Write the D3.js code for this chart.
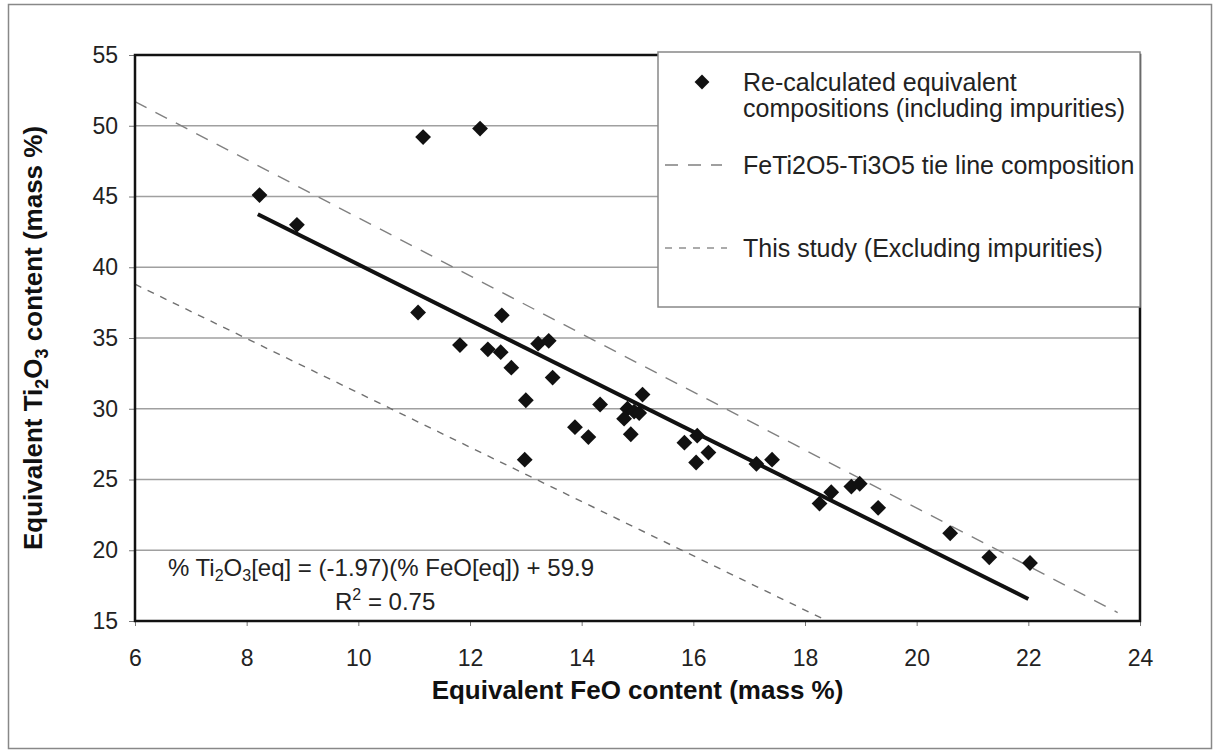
<!DOCTYPE html>
<html>
<head>
<meta charset="utf-8">
<script src="https://cdn.jsdelivr.net/npm/d3@7"></script>
<style>
  body { margin: 0; background: #fff; }
  svg { display: block; font-family: "Liberation Sans", Arial, sans-serif; }
</style>
</head>
<body>
<div id="chart"></div>
<script>
// measured points: equivalent FeO vs equivalent Ti2O3 (mass %)
const feo = [8.23, 8.9, 11.16, 12.18, 11.07, 12.57, 11.82, 12.32, 12.55, 13.22,
    13.41, 12.74, 13.48, 13.0, 14.33, 13.88, 14.12, 12.98, 15.09, 14.82,
    14.94, 14.76, 15.03, 14.88, 15.84, 16.07, 16.27, 16.05, 17.13, 17.41,
    18.26, 18.47, 18.83, 18.98, 19.31, 20.6, 21.3, 22.03];
const ti2o3 = [45.1, 43.0, 49.2, 49.8, 36.8, 36.6, 34.5, 34.2, 34.0, 34.6,
    34.8, 32.9, 32.2, 30.6, 30.3, 28.7, 28.0, 26.4, 31.0, 30.0,
    29.8, 29.3, 29.7, 28.2, 27.6, 28.1, 26.9, 26.2, 26.1, 26.4,
    23.3, 24.1, 24.5, 24.7, 23.0, 21.2, 19.5, 19.1];

// fitted trend: %Ti2O3 = slope * %FeO + intercept, drawn over fitRange
const fitSlope = -1.97;
const fitIntercept = 59.9;
const fitRange = [8.2, 22.0];

// reference lines, endpoints [FeO, Ti2O3]
const tieLine = [[6, 51.7], [23.6, 15.6]];
const studyLine = [[6, 38.8], [18.4, 15]];

const xTicks = [6, 8, 10, 12, 14, 16, 18, 20, 22, 24];
const yTicks = [15, 20, 25, 30, 35, 40, 45, 50, 55];

const legendLabels = [
    ["Re-calculated equivalent", "compositions (including impurities)"],
    ["FeTi2O5-Ti3O5 tie line composition"],
    ["This study (Excluding impurities)"]
];

const W = 1220, H = 753;
const margin = { top: 55, right: 80, bottom: 132, left: 135 },
    width = W - margin.left - margin.right,
    height = H - margin.top - margin.bottom;

const svg = d3.select("#chart")
    .append("svg")
    .attr("width", W)
    .attr("height", H);

// outer frame of the figure
svg.append("rect")
    .attr("x", 8.5).attr("y", 4.5)
    .attr("width", 1203).attr("height", 744)
    .attr("fill", "none")
    .attr("stroke", "#888")
    .attr("stroke-width", 1.5);

const g = svg.append("g")
    .attr("transform", `translate(${margin.left},${margin.top})`);

const x = d3.scaleLinear().domain([6, 24]).range([0, width]);
const y = d3.scaleLinear().domain([15, 55]).range([height, 0]);

// gridlines
g.append("g")
    .selectAll("line")
    .data(yTicks.filter(t => t > 15 && t < 55))
    .join("line")
    .attr("x1", 0).attr("x2", width)
    .attr("y1", d => y(d)).attr("y2", d => y(d))
    .attr("stroke", "#a0a0a0")
    .attr("stroke-width", 1.3);

// axes
const yAxis = g.append("g")
    .call(d3.axisLeft(y).tickValues(yTicks).tickSize(6).tickPadding(11));
const xAxis = g.append("g")
    .attr("transform", `translate(0,${height})`)
    .call(d3.axisBottom(x).tickValues(xTicks).tickSize(5).tickPadding(24));
[yAxis, xAxis].forEach(a => {
    a.select(".domain").remove();
    a.selectAll(".tick line").attr("stroke", "#777");
    a.selectAll("text")
        .attr("font-size", "23px")
        .attr("font-family", "Liberation Sans, Arial, sans-serif")
        .attr("fill", "#222");
});

// reference lines
const line = d3.line().x(d => x(d[0])).y(d => y(d[1]));
g.append("path")
    .attr("d", line(tieLine))
    .attr("fill", "none")
    .attr("stroke", "#808080")
    .attr("stroke-width", 1.4)
    .attr("stroke-dasharray", "13,10");
g.append("path")
    .attr("d", line(studyLine))
    .attr("fill", "none")
    .attr("stroke", "#707070")
    .attr("stroke-width", 1.4)
    .attr("stroke-dasharray", "7,7");

// trend line
g.append("path")
    .attr("d", line(fitRange.map(v => [v, fitSlope * v + fitIntercept])))
    .attr("fill", "none")
    .attr("stroke", "#111")
    .attr("stroke-width", 4);

// points
const diamond = d3.symbol().type(d3.symbolSquare).size(125);
g.append("g")
    .selectAll("path")
    .data(feo.map((v, i) => [v, ti2o3[i]]))
    .join("path")
    .attr("d", diamond)
    .attr("transform", d => `translate(${x(d[0])},${y(d[1])}) rotate(45)`)
    .attr("fill", "#111");

// plot frame
g.append("rect")
    .attr("width", width).attr("height", height)
    .attr("fill", "none")
    .attr("stroke", "#111")
    .attr("stroke-width", 2.5);

// equation
const eq = g.append("text")
    .attr("x", 33).attr("y", 521)
    .attr("font-size", "24px")
    .attr("fill", "#222");
eq.append("tspan").text("% Ti");
eq.append("tspan").attr("dy", 5).attr("font-size", "16px").text("2");
eq.append("tspan").attr("dy", -5).text("O");
eq.append("tspan").attr("dy", 5).attr("font-size", "16px").text("3");
eq.append("tspan").attr("dy", -5).text("[eq] = (-1.97)(% FeO[eq]) + 59.9");

const r2 = g.append("text")
    .attr("x", 200).attr("y", 555)
    .attr("font-size", "24px")
    .attr("fill", "#222");
r2.append("tspan").text("R");
r2.append("tspan").attr("dy", -10).attr("font-size", "16px").text("2");
r2.append("tspan").attr("dy", 10).text(" = 0.75");

// axis titles
svg.append("text")
    .attr("x", margin.left + width / 2)
    .attr("y", 699)
    .attr("text-anchor", "middle")
    .attr("font-size", "26px")
    .attr("font-weight", "bold")
    .attr("fill", "#111")
    .text("Equivalent FeO content (mass %)");

const yt = svg.append("text")
    .attr("transform", `translate(42,${margin.top + height / 2}) rotate(-90)`)
    .attr("text-anchor", "middle")
    .attr("font-size", "26px")
    .attr("font-weight", "bold")
    .attr("fill", "#111");
yt.append("tspan").text("Equivalent Ti");
yt.append("tspan").attr("dy", 6).attr("font-size", "18px").text("2");
yt.append("tspan").attr("dy", -6).text("O");
yt.append("tspan").attr("dy", 6).attr("font-size", "18px").text("3");
yt.append("tspan").attr("dy", -6).text(" content (mass %)");

// legend
const legend = svg.append("g");
legend.append("rect")
    .attr("x", 658).attr("y", 52)
    .attr("width", 482).attr("height", 255)
    .attr("fill", "#fff")
    .attr("stroke", "#888")
    .attr("stroke-width", 1.5);

legend.append("path")
    .attr("d", d3.symbol().type(d3.symbolSquare).size(110))
    .attr("transform", "translate(702,82) rotate(45)")
    .attr("fill", "#111");
legend.append("line")
    .attr("x1", 665).attr("x2", 722)
    .attr("y1", 165).attr("y2", 165)
    .attr("stroke", "#808080").attr("stroke-width", 1.4)
    .attr("stroke-dasharray", "13,10");
legend.append("line")
    .attr("x1", 665).attr("x2", 727)
    .attr("y1", 248).attr("y2", 248)
    .attr("stroke", "#909090").attr("stroke-width", 1.4)
    .attr("stroke-dasharray", "7,7");

const legendY = [91, 174, 257];
legendLabels.forEach((lines, i) => {
    lines.forEach((t, j) => {
        legend.append("text")
            .attr("x", 743)
            .attr("y", legendY[i] + j * 26)
            .attr("font-size", "25px")
            .attr("fill", "#222")
            .text(t);
    });
});
</script>
</body>
</html>
